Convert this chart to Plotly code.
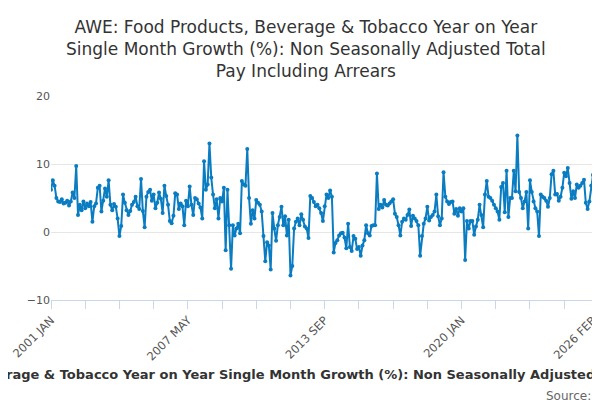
import plotly.graph_objects as go

# monthly values, 2001 JAN .. 2026 FEB
growth = [
    6.2, 7.6, 6.8, 5.0, 4.5, 4.4, 4.8, 4.2, 4.3, 4.6, 3.9, 4.5,
    5.8, 5.0, 9.7, 2.5, 4.0, 3.2, 4.5, 3.5, 4.2, 3.8, 4.4, 1.5,
    3.8, 4.2, 6.5, 6.8, 3.0, 4.6, 6.4, 5.2, 7.6, 4.0, 3.2, 4.1,
    3.7, 2.0, -0.6, 0.9, 5.5, 4.3, 3.2, 2.5, 3.1, 4.0, 4.4, 5.2,
    3.8, 3.4, 7.8, 3.1, 0.7, 5.2, 5.9, 6.2, 4.6, 5.5, 3.5, 4.3,
    5.8, 4.9, 2.8, 6.8, 5.3, 4.0, 1.6, 1.3, 2.4, 5.7, 5.5, 3.4,
    4.2, 3.8, 1.0, 4.6, 3.8, 6.7, 4.0, 2.5, 5.0, 4.8, 4.2, 3.6,
    2.0, 10.4, 6.2, 7.0, 13.0, 8.0, 5.5, 3.5, 4.8, 2.0, 5.0, 4.5,
    6.5, -2.7, 6.2, 1.0, -5.4, 1.0, -0.5, 0.5, 1.2, -0.2, 7.5, 7.0,
    6.8, 12.2, 5.0, 1.2, 3.2, 2.0, 4.7, 4.3, 4.0, 3.0, -0.6, -4.3,
    -1.5, -2.0, -5.5, 2.8, 0.5, -1.3, 1.0, 2.2, 3.7, 1.0, 2.3, -0.5,
    1.8, -6.4, -5.0, 0.5, 1.5, 2.0, 1.0, 2.6, 1.8, 0.8, 0.5, -0.9,
    5.3, 5.0, 4.4, 3.8, 4.0, 3.5, 2.8, 1.6, 3.8, 5.5, 5.0, 6.1,
    5.2, -3.0, -1.6, -1.2, -0.5, -0.2, -0.1, -0.8, -2.4, 1.2, -2.2, -2.8,
    -0.6, -1.0, -2.5, -2.2, -3.5, -2.0, -1.2, 1.0, -0.2, -0.5, 0.9, 1.0,
    1.0, 8.6, 3.4, 4.0, 3.6, 4.7, 4.0, 3.9, 4.2, 4.5, 4.8, 2.7,
    2.2, 1.0, -0.5, 1.5, 2.0, 1.8, 2.5, 3.3, 0.9, 2.4, 2.0, 1.6,
    1.0, -3.5, -0.6, 1.2, 2.0, 3.7, 1.7, 2.2, 2.5, 3.0, 5.5, 2.3,
    1.0, 2.0, 8.8, 5.2, 4.5, 4.1, 4.4, 4.5, 2.7, 3.4, 2.4, 3.5,
    3.0, 3.5, -4.1, 1.6, 0.5, 1.6, 1.6, -0.4, 0.8, 1.8, 4.0, 2.5,
    0.7, 5.5, 7.5, 5.2, 5.0, 4.6, 4.0, 3.5, 3.0, 1.8, 6.6, 7.2,
    2.9, 9.0, 2.2, 5.0, 5.0, 9.0, 6.0, 14.2, 5.9, 5.0, 3.5, 4.5,
    5.9, 0.5, 7.6, 5.9, 4.5, 3.5, 3.0, -0.6, 5.5, 5.2, 5.0, 4.6,
    3.7, 5.0, 8.5, 9.0, 5.5, 5.6, 4.6, 5.2, 6.5, 8.7, 8.2, 9.4,
    7.2, 4.9, 6.0, 5.0, 7.0, 6.5, 6.8, 7.2, 7.7, 4.3, 3.4, 4.5,
    6.8, 8.4,
]
month_names = ["JAN", "FEB", "MAR", "APR", "MAY", "JUN",
               "JUL", "AUG", "SEP", "OCT", "NOV", "DEC"]
months = [f"{2001 + i // 12} {month_names[i % 12]}" for i in range(len(growth))]
tick_labels = ["2001 JAN", "2007 MAY", "2013 SEP", "2020 JAN", "2026 FEB"]

x = list(range(len(growth)))
tick_pos = [months.index(t) for t in tick_labels]

fig = go.Figure()
fig.add_scatter(
    x=x, y=growth, mode="lines+markers",
    line=dict(color="#0a7cc1", width=2),
    marker=dict(color="#0a7cc1", size=4),
    text=months, hovertemplate="%{text}: %{y}<extra></extra>",
)

fig.update_layout(
    width=600, height=400,
    paper_bgcolor="white", plot_bgcolor="white",
    font=dict(family="DejaVu Sans", color="#333"),
    margin=dict(l=43, r=15, t=88, b=108, autoexpand=False),
    showlegend=False,
    xaxis=dict(
        range=[0, len(growth) - 1],
        tickvals=tick_pos, ticktext=tick_labels, tickangle=-45,
        ticks="outside", ticklen=8, tickcolor="#ccd6eb",
        showline=True, linecolor="#ccd6eb", showgrid=False, zeroline=False,
        tickfont=dict(size=11.5, color="#555"),
        minor=dict(dtick=19, tick0=0, ticks="outside", ticklen=8, tickcolor="#ccd6eb"),
    ),
    yaxis=dict(
        range=[-10, 20], tickvals=[-10, 0, 10, 20],
        showgrid=True, gridcolor="#e6e6e6", zeroline=False,
        tickfont=dict(size=11, color="#555"),
    ),
)
# title as a paper annotation so nothing gets clipped at the top
fig.add_annotation(
    text="AWE: Food Products, Beverage & Tobacco Year on Year<br>"
         "Single Month Growth (%): Non Seasonally Adjusted Total<br>"
         "Pay Including Arrears",
    xref="paper", yref="paper", x=0.47, y=1.395, xanchor="center", yanchor="top",
    showarrow=False, font=dict(size=17, color="#333"),
)
fig.add_annotation(
    text="<b>AWE: Food Products, Beverage & Tobacco Year on Year Single Month Growth (%): "
         "Non Seasonally Adjusted Total Pay Including Arrears</b>",
    xref="paper", yref="paper", x=0.47, y=-0.365, xanchor="center", yanchor="middle",
    showarrow=False, font=dict(size=13, color="#333"),
)
fig.add_annotation(
    text="Source:", xref="paper", yref="paper", x=1.0, y=-0.47,
    xanchor="right", yanchor="middle", showarrow=False,
    font=dict(size=12, color="#666"),
)

fig.write_html("out.html")
